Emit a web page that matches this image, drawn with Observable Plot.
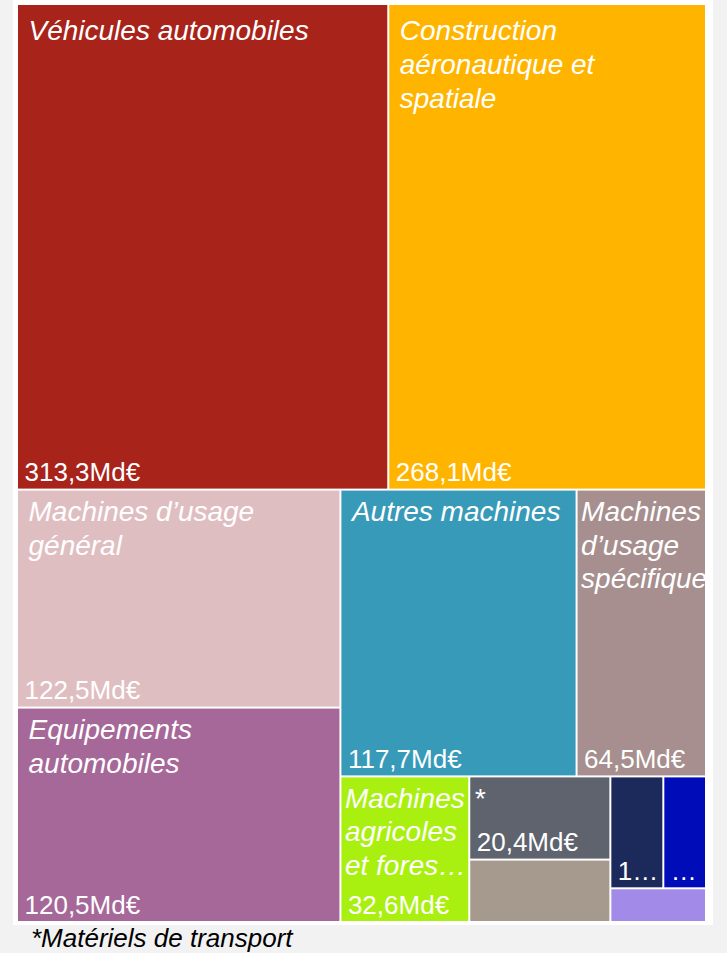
<!DOCTYPE html>
<html>
<head>
<meta charset="utf-8">
<script src="https://cdn.jsdelivr.net/npm/d3@7"></script>
<script src="https://cdn.jsdelivr.net/npm/@observablehq/plot@0.6"></script>
<style>
  html, body { margin: 0; padding: 0; }
  body { background: #f2f2f2; width: 727px; height: 953px; overflow: hidden; position: relative;
         font-family: "Liberation Sans", Arial, sans-serif; }
  #panel { position: absolute; left: 13px; top: 0; width: 700px; height: 925px; background: #ffffff; }
  #note { position: absolute; left: 31px; top: 925px; font-style: italic; font-size: 26px; color: #000;
          line-height: 26px; }
</style>
</head>
<body>
<div id="panel"></div>
<div id="note">*Matériels de transport</div>
<script>
// ---- data ----
const nameLabels = [
  "Véhicules automobiles",
  "Construction\naéronautique et\nspatiale",
  "Machines d’usage\ngénéral",
  "Equipements\nautomobiles",
  "Autres machines",
  "Machines\nd’usage\nspécifique",
  "Machines\nagricoles\net fores…",
  "*",
  "",
  "",
  "",
  ""
];
const values = [313.3, 268.1, 122.5, 120.5, 117.7, 64.5, 32.6, 20.4, 15.3, 10.3, 8.3, 5.6];
const valueLabels = [
  "313,3Md€", "268,1Md€", "122,5Md€", "120,5Md€", "117,7Md€", "64,5Md€",
  "32,6Md€", "20,4Md€", "", "1…", "…", ""
];
const colors = [
  "#a8231a", "#ffb500", "#dfbec1", "#a66898", "#379ab8", "#a68f8e",
  "#a9f010", "#5e636d", "#a69a8e", "#1c2a5b", "#000cb8", "#a28be8"
];
// nesting of the treemap (group path of each leaf)
const groups = [
  "top", "top",
  "bottom/left", "bottom/left",
  "bottom/right/upper", "bottom/right/upper",
  "bottom/right/lower",
  "bottom/right/lower/c", "bottom/right/lower/c",
  "bottom/right/lower/d/e", "bottom/right/lower/d/e",
  "bottom/right/lower/d"
];

// ---- hierarchy & layout ----
const rootObj = {key: "root", children: []};
values.forEach((v, i) => {
  let node = rootObj;
  for (const seg of groups[i].split("/")) {
    let c = node.children.find(c => c.key === seg);
    if (!c) { c = {key: seg, children: []}; node.children.push(c); }
    node = c;
  }
  node.children.push({i, value: v});
});
const root = d3.hierarchy(rootObj).sum(d => d.value || 0);
d3.treemap()
  .size([1, 1])
  .round(false)
  .tile((node, x0, y0, x1, y1) =>
    (node.depth % 2 ? d3.treemapDice : d3.treemapSlice)(node, x0, y0, x1, y1))(root);

const cells = root.leaves().map(n => ({
  x0: n.x0, x1: n.x1, y0: n.y0, y1: n.y1,
  name: nameLabels[n.data.i],
  value: valueLabels[n.data.i],
  color: colors[n.data.i]
}));

const wide = d => d.x1 - d.x0 >= 0.3;
const topRow = d => d.y0 < 0.01;
const nameStyle = {
  x: "x0", y: "y0", text: "name",
  textAnchor: "start", lineAnchor: "top", lineHeight: 1.2,
  fill: "white", fontSize: 28, fontStyle: "italic"
};

const chart = Plot.plot({
  width: 700,
  height: 925,
  marginLeft: 4,
  marginRight: 7,
  marginTop: 4,
  marginBottom: 3,
  x: {domain: [0, 1], axis: null},
  y: {domain: [0, 1], reverse: true, axis: null},
  color: {type: "identity"},
  style: {background: "#ffffff", fontFamily: "'Liberation Sans', Arial, sans-serif", overflow: "hidden"},
  marks: [
    Plot.rect(cells, {x1: "x0", x2: "x1", y1: "y0", y2: "y1", fill: "color", inset: 1}),
    Plot.text(cells, {...nameStyle, filter: d => wide(d) && topRow(d), dx: 11, dy: 12}),
    Plot.text(cells, {...nameStyle, filter: d => wide(d) && !topRow(d), dx: 11, dy: 7}),
    Plot.text(cells, {...nameStyle, filter: d => !wide(d), dx: 4, dy: 7}),
    Plot.text(cells, {
      x: "x0", y: "y1", text: "value",
      textAnchor: "start", lineAnchor: "bottom",
      dx: 7, dy: -9,
      fill: "white", fontSize: 26
    })
  ]
});
document.getElementById("panel").appendChild(chart);
</script>
</body>
</html>
